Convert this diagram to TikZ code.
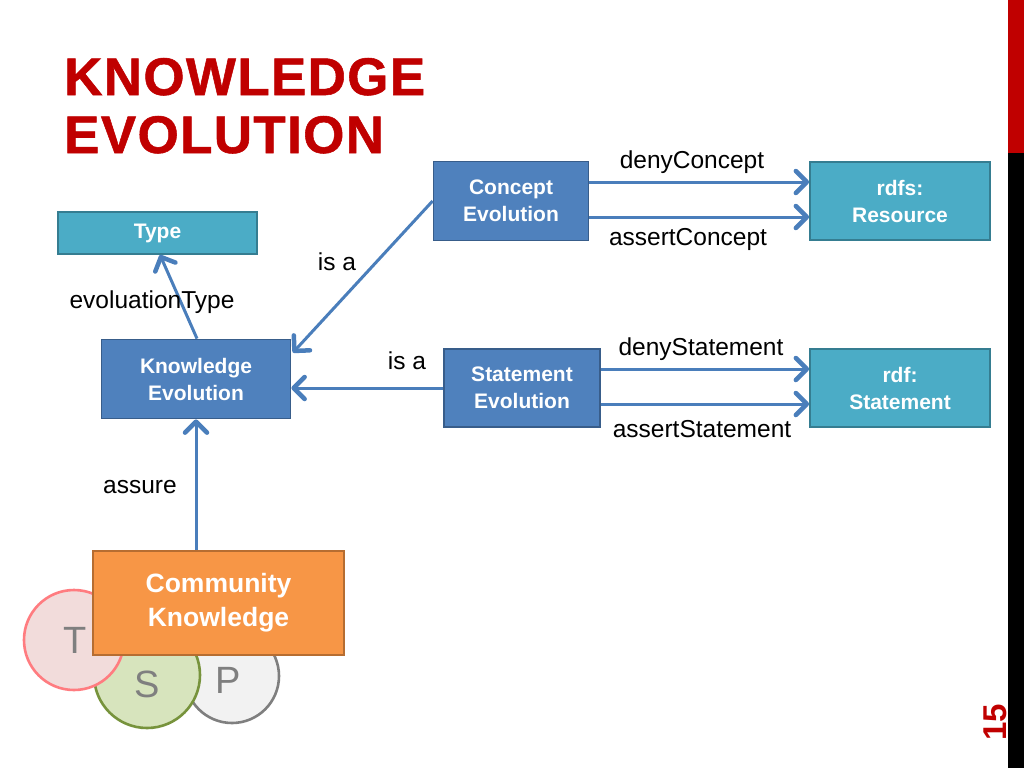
\documentclass[tikz,border=0pt]{standalone}
\usepackage{fontspec}
\setmainfont{Liberation Sans}
\newfontfamily\titlefont[FakeBold=1.0,LetterSpace=2.5]{Liberation Sans Bold}
\usetikzlibrary{arrows.meta}
\definecolor{kblue}{HTML}{4F81BD}
\definecolor{kblueb}{HTML}{385D8A}
\definecolor{kteal}{HTML}{4BACC6}
\definecolor{ktealb}{HTML}{357D91}
\definecolor{korange}{HTML}{F79646}
\definecolor{korangeb}{HTML}{B66D31}
\definecolor{karrow}{HTML}{4A7EBB}
\definecolor{ktitle}{HTML}{C00000}
\definecolor{kgray}{HTML}{7F7F7F}
\definecolor{tfill}{HTML}{F2DCDB}
\definecolor{tborder}{HTML}{FF7C80}
\definecolor{sfill}{HTML}{D7E4BD}
\definecolor{sborder}{HTML}{77933C}
\definecolor{pfill}{HTML}{F2F2F2}
\tikzset{
  box/.style={draw=kblueb, fill=kblue, line width=1.8pt, text=white,
    font=\fontsize{21}{27}\selectfont\bfseries, align=center, inner sep=0pt},
  tealbox/.style={box, draw=ktealb, fill=kteal},
  orangebox/.style={box, draw=korangeb, fill=korange, font=\fontsize{26.5}{34}\selectfont\bfseries},
  arr/.style={draw=karrow, line width=3pt, -{Straight Barb[length=11pt,width=22pt,line width=4.5pt,line cap=round,line join=round]}},
  lbl/.style={font=\fontsize{24.5}{28}\selectfont, anchor=base, inner sep=0pt},
  circ/.style={circle, line width=2.6pt, inner sep=0pt},
  letter/.style={inner sep=0pt, text=kgray, font=\fontsize{38}{40}\selectfont},
  ttl/.style={anchor=base west, inner sep=0pt, text=ktitle, font=\fontsize{53}{60}\titlefont},
}
\begin{document}
\begin{tikzpicture}[x=1pt,y=-1pt]
\useasboundingbox (0,0) rectangle (1024,768);
\fill[white] (0,0) rectangle (1024,768);
% side bar
\fill[ktitle] (1008,0) rectangle (1024,153);
\fill[black] (1008,153) rectangle (1024,768);
\node[rotate=90, text=ktitle, font=\fontsize{33}{35}\selectfont\bfseries, inner sep=0pt] (pagenum) at (995,722) {15};
% title
\node[ttl] (title1) at (64,95) {KNOWLEDGE};
\node[ttl] (title2) at (64,153) {EVOLUTION};
% circles
\node[circ, draw=kgray, fill=pfill, minimum size=94pt] (cp) at (232,676) {};
\node[letter] (lp) at (228,680) {P};
\node[circ, draw=sborder, fill=sfill, minimum size=106pt] (cs) at (147,675) {};
\node[letter] (ls) at (147,684) {S};
\node[circ, draw=tborder, fill=tfill, minimum size=100pt] (ct) at (74,640) {};
\node[letter] (lt) at (75,640) {T};
% boxes
\node[tealbox, minimum width=199pt, minimum height=42pt] (type) at (157.5,233) {Type};
\node[box, minimum width=189pt, minimum height=79pt] (ke) at (196,379) {Knowledge\\Evolution};
\node[box, minimum width=155pt, minimum height=79pt] (ce) at (511,201) {Concept\\Evolution};
\node[tealbox, minimum width=180pt, minimum height=78pt] (rr) at (900,201) {rdfs:\\Resource};
\node[box, minimum width=156pt, minimum height=78pt] (se) at (522,388) {Statement\\Evolution};
\node[tealbox, minimum width=180pt, minimum height=78pt] (rs) at (900,388) {rdf:\\Statement};
\node[orangebox, minimum width=251pt, minimum height=104pt] (ck) at (218.5,603) {Community\\Knowledge};
% connectors
\draw[arr] ([xshift=1pt]ke.north) -- ([xshift=2.5pt]type.south);
\draw[arr] (ce.west) -- ([xshift=1.5pt,yshift=-14pt]ke.north east);
\draw[arr] (se.west) -- (se.west -| ke.east);
\draw[arr] (ke.south |- ck.north) -- (ke.south);
\draw[arr] ([yshift=19pt]ce.east) -- ([yshift=19pt]rr.west);
\draw[arr] ([yshift=-16pt]ce.east) -- ([yshift=-16pt]rr.west);
\draw[arr] ([yshift=19pt]se.east) -- ([yshift=19pt]rs.west);
\draw[arr] ([yshift=-16pt]se.east) -- ([yshift=-16pt]rs.west);
% labels
\node[lbl] (l1) at (692,168) {denyConcept};
\node[lbl] (l2) at (688,245) {assertConcept};
\node[lbl] (l3) at (701,355) {denyStatement};
\node[lbl] (l4) at (702,437) {assertStatement};
\node[lbl] (l5) at (337,270) {is a};
\node[lbl] (l6) at (407,369) {is a};
\node[lbl] (l7) at (152,308) {evoluationType};
\node[lbl] (l8) at (140,493) {assure};
\end{tikzpicture}
\end{document}
